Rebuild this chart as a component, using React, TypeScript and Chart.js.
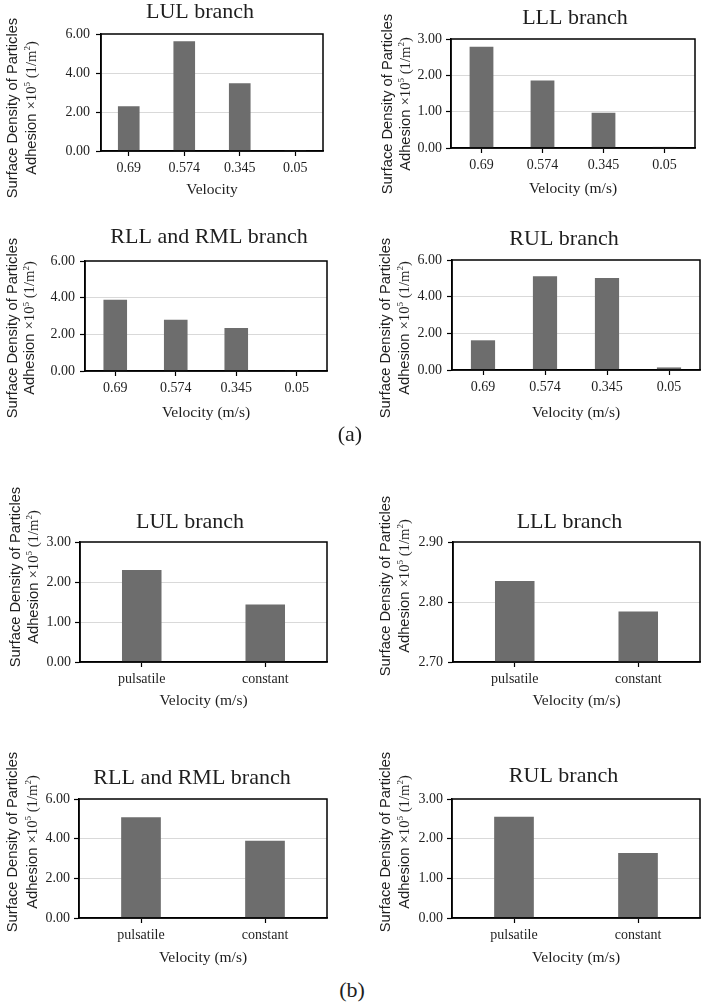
import React, { useEffect, useRef } from 'react';
import { Chart, registerables } from 'chart.js';

Chart.register(...registerables);

// ---------- data ----------
const velocityLabels = ['0.69', '0.574', '0.345', '0.05'];
const flowLabels = ['pulsatile', 'constant'];

const lulVelocity = [2.3, 5.63, 3.48, 0.05];
const lllVelocity = [2.79, 1.86, 0.97, 0.03];
const rllVelocity = [3.89, 2.8, 2.35, 0.01];
const rulVelocity = [1.62, 5.11, 5.02, 0.14];

const lulFlow = [2.3, 1.44];
const lllFlow = [2.835, 2.784];
const rllFlow = [5.08, 3.89];
const rulFlow = [2.55, 1.64];

const lulTitle = 'LUL branch';
const lllTitle = 'LLL branch';
const rllTitle = 'RLL and RML branch';
const rulTitle = 'RUL branch';

const xTitleA1 = 'Velocity';
const xTitle = 'Velocity (m/s)';

// ---------- styling / layout ----------
const SERIF = '"Liberation Serif", "Times New Roman", serif';
const SANS = '"Liberation Sans", Arial, sans-serif';
const BAR = '#6d6d6d';
const TEXT = '#1e1e1e';

type Panel = {
  title: string;
  labels: string[];
  values: number[];
  xTitle: string;
  yMin: number;
  yMax: number;
  yStep: number;
  canvas: [number, number, number, number]; // x, y, w, h (page)
  plot: [number, number, number, number]; // L, T, R, B (page)
  titlePos: [number, number];
  yTitle: [number, number, number]; // line1 x, line2 x, center y
  xTitleY: number;
  yPad: number;
  barPct: number;
};

const panels: Panel[] = [
  { title: lulTitle, labels: velocityLabels, values: lulVelocity, xTitle: xTitleA1, yMin: 0, yMax: 6, yStep: 2,
    canvas: [0, 0, 352, 205], plot: [101, 34, 323, 151], titlePos: [200, 17.5], yTitle: [12, 31, 108], xTitleY: 194, yPad: 6, barPct: 0.39 },
  { title: lllTitle, labels: velocityLabels, values: lllVelocity, xTitle: xTitle, yMin: 0, yMax: 3, yStep: 1,
    canvas: [352, 0, 351, 205], plot: [451, 39, 695, 148], titlePos: [575, 23.5], yTitle: [387, 405, 104], xTitleY: 193, yPad: 4, barPct: 0.39 },
  { title: rllTitle, labels: velocityLabels, values: rllVelocity, xTitle: xTitle, yMin: 0, yMax: 6, yStep: 2,
    canvas: [0, 205, 352, 225], plot: [85, 261, 327, 371], titlePos: [209, 242.7], yTitle: [12, 29.5, 328], xTitleY: 416.5, yPad: 5, barPct: 0.39 },
  { title: rulTitle, labels: velocityLabels, values: rulVelocity, xTitle: xTitle, yMin: 0, yMax: 6, yStep: 2,
    canvas: [352, 205, 351, 225], plot: [452, 260, 700, 370], titlePos: [564, 245], yTitle: [385, 404, 328], xTitleY: 416.5, yPad: 5, barPct: 0.39 },
  { title: lulTitle, labels: flowLabels, values: lulFlow, xTitle: xTitle, yMin: 0, yMax: 3, yStep: 1,
    canvas: [0, 470, 352, 250], plot: [80, 542, 327, 662], titlePos: [190, 528.3], yTitle: [15, 33, 577], xTitleY: 705, yPad: 4, barPct: 0.32 },
  { title: lllTitle, labels: flowLabels, values: lllFlow, xTitle: xTitle, yMin: 2.7, yMax: 2.9, yStep: 0.1,
    canvas: [352, 470, 351, 250], plot: [453, 542, 700, 662], titlePos: [569.5, 528.3], yTitle: [385, 404, 586], xTitleY: 705, yPad: 5, barPct: 0.32 },
  { title: rllTitle, labels: flowLabels, values: rllFlow, xTitle: xTitle, yMin: 0, yMax: 6, yStep: 2,
    canvas: [0, 725, 352, 250], plot: [79, 799, 327, 918], titlePos: [192, 784], yTitle: [12, 32, 842], xTitleY: 961.5, yPad: 4, barPct: 0.32 },
  { title: rulTitle, labels: flowLabels, values: rulFlow, xTitle: xTitle, yMin: 0, yMax: 3, yStep: 1,
    canvas: [352, 725, 351, 250], plot: [452, 799, 700, 918], titlePos: [563.5, 782.3], yTitle: [385, 404, 842], xTitleY: 961.5, yPad: 4, barPct: 0.32 },
];

type Seg = { text: string; font: string; dy: number };

function drawRotatedLine(ctx: CanvasRenderingContext2D, segs: Seg[], cx: number, cy: number) {
  let total = 0;
  const widths: number[] = [];
  for (const s of segs) {
    ctx.font = s.font;
    const w = ctx.measureText(s.text).width;
    widths.push(w);
    total += w;
  }
  ctx.save();
  ctx.translate(cx, cy);
  ctx.rotate(-Math.PI / 2);
  ctx.textAlign = 'left';
  ctx.textBaseline = 'alphabetic';
  let x = -total / 2;
  segs.forEach((s, i) => {
    ctx.font = s.font;
    ctx.fillText(s.text, x, s.dy);
    x += widths[i];
  });
  ctx.restore();
}

function makeFramePlugin() {
  return {
    id: 'frame',
    afterDraw(chart: any) {
      const { ctx, chartArea } = chart;
      ctx.save();
      ctx.strokeStyle = '#000';
      ctx.lineWidth = 1.5;
      ctx.strokeRect(chartArea.left, chartArea.top, chartArea.right - chartArea.left, chartArea.bottom - chartArea.top);
      ctx.restore();
    },
  };
}

function makeTextPlugin(p: Panel) {
  return {
    id: 'panelText',
    afterDraw(chart: any) {
      const ctx: CanvasRenderingContext2D = chart.ctx;
      const ox = p.canvas[0];
      const oy = p.canvas[1];
      const area = chart.chartArea;
      ctx.save();
      ctx.fillStyle = TEXT;
      // chart title
      ctx.font = `22px ${SERIF}`;
      ctx.textAlign = 'center';
      ctx.textBaseline = 'alphabetic';
      ctx.fillText(p.title, p.titlePos[0] - ox, p.titlePos[1] - oy);
      // x axis title
      ctx.font = `15.5px ${SERIF}`;
      ctx.fillText(p.xTitle, (area.left + area.right) / 2, p.xTitleY - oy);
      // y axis title (two lines, rotated)
      const fs = 14.7;
      const base = fs * 0.33;
      const sup = -fs * 0.38;
      drawRotatedLine(ctx, [{ text: 'Surface Density of Particles', font: `${fs}px ${SANS}`, dy: base }], p.yTitle[0] - ox, p.yTitle[2] - oy);
      drawRotatedLine(
        ctx,
        [
          { text: 'Adhesion ', font: `${fs}px ${SANS}`, dy: base },
          { text: '\u00d710', font: `${fs}px ${SERIF}`, dy: base },
          { text: '5', font: `9px ${SERIF}`, dy: base + sup },
          { text: ' (1/m', font: `${fs}px ${SERIF}`, dy: base },
          { text: '2', font: `9px ${SERIF}`, dy: base + sup },
          { text: ')', font: `${fs}px ${SERIF}`, dy: base },
        ],
        p.yTitle[1] - ox,
        p.yTitle[2] - oy
      );
      ctx.restore();
    },
  };
}

function PanelChart({ p }: { p: Panel }) {
  const ref = useRef<HTMLCanvasElement | null>(null);
  useEffect(() => {
    if (!ref.current) return;
    const [cx, cy, cw, ch] = p.canvas;
    const [L, T, R, B] = p.plot;
    const chart = new Chart(ref.current, {
      type: 'bar',
      data: {
        labels: p.labels,
        datasets: [
          {
            data: p.values,
            backgroundColor: BAR,
            borderWidth: 0,
            barPercentage: p.barPct,
            categoryPercentage: 1,
          },
        ],
      },
      options: {
        responsive: false,
        animation: false,
        devicePixelRatio: 1,
        layout: { padding: { left: 0, top: T - cy, right: cx + cw - R, bottom: 0 } },
        plugins: {
          legend: { display: false },
          tooltip: { enabled: false },
          title: { display: false },
        },
        scales: {
          x: {
            grid: {
              display: true,
              drawOnChartArea: false,
              offset: false,
              tickLength: 5,
              tickColor: '#000',
              tickWidth: 1.2,
            },
            border: { color: '#000', width: 1.5 },
            ticks: {
              font: { family: SERIF, size: 14 },
              color: TEXT,
              padding: 4,
              maxRotation: 0,
              autoSkip: false,
            },
            afterFit: (s: any) => {
              s.height = cy + ch - B;
            },
          },
          y: {
            min: p.yMin,
            max: p.yMax,
            ticks: {
              stepSize: p.yStep,
              font: { family: SERIF, size: 14 },
              color: TEXT,
              padding: p.yPad,
              callback: (v: any) => Number(v).toFixed(2),
            },
            grid: {
              color: (c: any) =>
                c.tick && c.tick.value >= p.yMax - 1e-6 ? 'rgba(0,0,0,0)' : '#d9d9d9',
              lineWidth: 1,
              tickLength: 5,
              tickColor: '#000',
              tickWidth: 1.2,
            },
            border: { color: '#000', width: 1.5 },
            afterFit: (s: any) => {
              s.width = L - cx;
            },
          },
        },
      } as any,
      plugins: [makeFramePlugin(), makeTextPlugin(p)],
    });
    return () => chart.destroy();
  }, [p]);
  const [cx, cy, cw, ch] = p.canvas;
  return (
    <canvas
      ref={ref}
      width={cw}
      height={ch}
      style={{ position: 'absolute', left: cx, top: cy, width: cw, height: ch }}
    />
  );
}

export default function App() {
  return (
    <div
      style={{
        position: 'absolute',
        left: 0,
        top: 0,
        width: 703,
        height: 1003,
        background: '#fff',
        overflow: 'hidden',
      }}
    >
      {panels.map((p, i) => (
        <PanelChart key={i} p={p} />
      ))}
      <div
        style={{
          position: 'absolute',
          left: 300,
          top: 422.6,
          width: 100,
          textAlign: 'center',
          font: `22px ${SERIF}`,
          lineHeight: '22px',
          color: TEXT,
        }}
      >
        (a)
      </div>
      <div
        style={{
          position: 'absolute',
          left: 302,
          top: 978.6,
          width: 100,
          textAlign: 'center',
          font: `22px ${SERIF}`,
          lineHeight: '22px',
          color: TEXT,
        }}
      >
        (b)
      </div>
    </div>
  );
}
